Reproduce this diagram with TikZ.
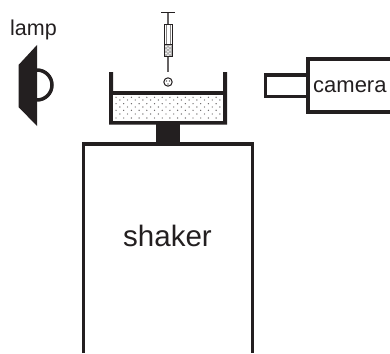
\documentclass[tikz,border=0pt]{standalone}
\usepackage{fontspec}
\setmainfont{Liberation Sans}
\definecolor{inkblack}{HTML}{231F20}
\tikzset{
	wall/.style={draw=inkblack, line width=3.5pt},
	solid part/.style={fill=inkblack},
	thin part/.style={draw=inkblack, line width=1pt},
	label/.style={inner sep=0pt, text=inkblack}
}
\begin{document}
\begin{tikzpicture}[x=1pt,y=-1pt]
	\useasboundingbox (0,0) rectangle (390,353);

	% shaker
	\draw[wall] (83.7,353) -- (83.7,144) -- (252.5,144) -- (252.5,353);
	\fill[solid part] (156,124) rectangle (180,143);
	\node[label, font=\fontsize{29.5}{29.5}\selectfont, anchor=base] (shaker) at (167.5,246.7) {shaker};

	% container
	\fill[solid part] (109,72) -- (113,72) -- (113,91) -- (223,91) -- (223,72) -- (227,72) -- (227,124.5) -- (109,124.5) -- cycle;
	\fill[white] (113,94.5) rectangle (223,120.5);
	\foreach \row/\ypos in {0/97.3, 1/100, 2/103.7, 3/107, 4/110.3, 5/114, 6/118}{
		\foreach \col in {0,...,13}{
			\pgfmathsetmacro{\xpos}{116+7.7*\col+3.8*mod(\row,2)}
			\fill[inkblack!70] (\xpos,\ypos) circle (0.7);
		}
	}

	% ball
	\draw[thin part, fill=white] (168,82) circle (4.2);
	\fill[inkblack!60] (166.5,81) circle (0.8) (169.5,81) circle (0.8) (168,84) circle (0.8);

	% syringe
	\draw[inkblack, line width=1.5pt] (161,12.5) -- (175,12.5);
	\draw[inkblack!70, line width=1.2pt] (168,13) -- (168,25);
	\draw[inkblack!70, line width=1.2pt] (168,56) -- (168,72);
	\fill[inkblack!35] (164,45) rectangle (172.5,56.5);
	\foreach \ypos in {46.5,50,53.5}{
		\fill[white] (166,\ypos) circle (0.9) (170,\ypos) circle (0.9) (168,\ypos+1.7) circle (0.9);
	}
	\draw[thin part] (164,25) rectangle (172.5,56.5);
	\draw[inkblack, line width=1.3pt] (164,44.5) -- (172.5,44.5);
	\draw[inkblack!55, line width=0.7pt] (166,25) -- (166,44) (170.5,25) -- (170.5,44);

	% lamp
	\fill[solid part] (37,45) -- (18.5,65) -- (18.5,107) -- (37,126) -- cycle;
	\draw[wall] (37,70) arc[start angle=-90, end angle=90, radius=15];
	\node[label, font=\fontsize{21.5}{21.5}\selectfont, anchor=base] (lamp) at (33.5,35) {lamp};

	% camera
	\draw[wall] (390,59) -- (308,59) -- (308,112) -- (390,112);
	\draw[wall] (308,75) -- (265.5,75) -- (265.5,96.5) -- (308,96.5);
	\node[label, font=\fontsize{22}{22}\selectfont, anchor=base west] (camera) at (313,92) {camera};
\end{tikzpicture}
\end{document}
